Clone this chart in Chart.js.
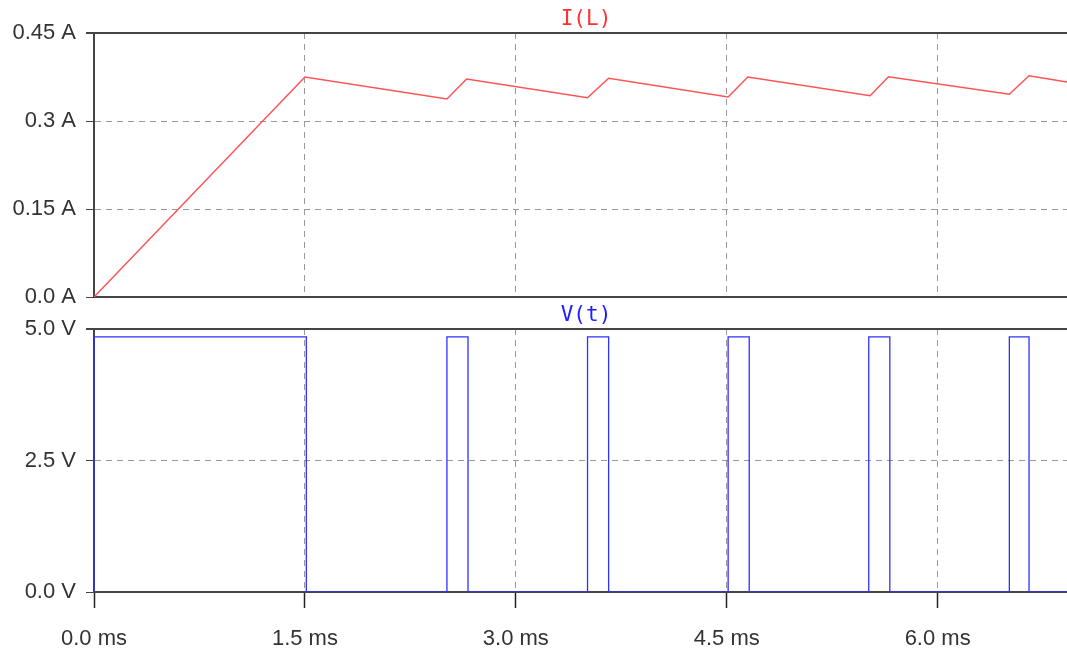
<!DOCTYPE html>
<html>
<head>
<meta charset="utf-8">
<script src="https://cdn.jsdelivr.net/npm/chart.js@4/dist/chart.umd.min.js"></script>
<style>
  body { margin: 0; background: #fff; width: 1067px; height: 651px; overflow: hidden; }
  canvas { position: absolute; left: 0; }
  #topChart { top: 0; }
  #bottomChart { top: 300px; }
</style>
</head>
<body>
<canvas id="topChart" width="1067" height="310"></canvas>
<canvas id="bottomChart" width="1067" height="351"></canvas>
<script>
// time axis (ms)
const timeMax = 6.92;
const timeTicks = [0, 1.5, 3.0, 4.5, 6.0];
const timeTickLabels = ['0.0 ms', '1.5 ms', '3.0 ms', '4.5 ms', '6.0 ms'];

// inductor current I(L), amps
const iTime = [0, 1.5, 2.51, 2.65, 3.51, 3.66, 4.51, 4.65, 5.52, 5.65, 6.51, 6.65, 6.92];
const iValues = [0, 0.375, 0.3375, 0.3716, 0.3397, 0.3728, 0.341, 0.375, 0.343, 0.3755, 0.3455, 0.3772, 0.3665];
const iTicks = [0, 0.15, 0.3, 0.45];
const iTickLabels = ['0.0 A', '0.15 A', '0.3 A', '0.45 A'];

// switch voltage V(t), volts (stepped)
const vTime = [0, 0, 1.51, 2.51, 2.66, 3.51, 3.66, 4.51, 4.66, 5.51, 5.66, 6.51, 6.65, 6.92];
const vValues = [0, 4.85, 0, 4.85, 0, 4.85, 0, 4.85, 0, 4.85, 0, 4.85, 0, 0];
const vTicks = [0, 2.5, 5.0];
const vTickLabels = ['0.0 V', '2.5 V', '5.0 V'];

const AXIS = '#444';
const GRID = '#999';
const tickFont = { family: 'Liberation Sans, Arial, sans-serif', size: 22 };

function points(xs, ys) {
    return xs.map((x, i) => ({ x: x, y: ys[i] }));
}

// panel title drawn above the plot area
const panelTitle = {
    id: 'panelTitle',
    afterDraw(chart, args, opts) {
        const ctx = chart.ctx;
        ctx.save();
        ctx.font = '21px "DejaVu Sans Mono", monospace';
        ctx.fillStyle = opts.color;
        ctx.textAlign = 'center';
        ctx.textBaseline = 'middle';
        ctx.fillText(opts.text, 586, chart.chartArea.top - opts.gap);
        ctx.restore();
    }
};

function yScale(min, max, ticks, labels) {
    return {
        type: 'linear',
        min: min,
        max: max,
        afterBuildTicks: s => { s.ticks = ticks.map(v => ({ value: v })); },
        afterFit: s => {
            s.width = 94;
            // let labels overhang the plot edges without shrinking it
            s.paddingTop = 0;
            s.paddingBottom = 0;
        },
        ticks: {
            font: tickFont,
            color: '#333',
            padding: 10,
            callback: (v, i) => labels[i]
        },
        grid: {
            color: c => (c.tick && c.tick.value === max) ? AXIS : GRID,
            lineWidth: c => (c.tick && c.tick.value === max) ? 2 : 1,
            tickColor: AXIS,
            tickLength: 8
        },
        border: {
            color: AXIS,
            width: 2,
            dash: c => (c.tick && c.tick.value === max) ? [] : [6, 5]
        }
    };
}

function xScale(showLabels) {
    return {
        type: 'linear',
        min: 0,
        max: timeMax,
        afterBuildTicks: s => { s.ticks = timeTicks.map(v => ({ value: v })); },
        afterFit: s => { s.height = showLabels ? 59 : 0; },
        ticks: {
            display: showLabels,
            font: tickFont,
            color: '#333',
            padding: 18,
            callback: (v, i) => timeTickLabels[i]
        },
        grid: {
            color: GRID,
            drawTicks: showLabels,
            tickColor: '#222',
            tickLength: 16,
            tickWidth: 1.5
        },
        border: {
            color: AXIS,
            width: 2,
            dash: [6, 5]
        }
    };
}

Chart.defaults.animation = false;

new Chart(document.getElementById('topChart'), {
    type: 'line',
    data: {
        datasets: [{
            data: points(iTime, iValues),
            borderColor: '#ff5252',
            borderWidth: 1.5,
            pointRadius: 0,
            tension: 0
        }]
    },
    options: {
        responsive: false,
        devicePixelRatio: 1,
        layout: { padding: { top: 33, bottom: 13, right: 0, left: 0 } },
        plugins: {
            legend: { display: false },
            tooltip: { enabled: false },
            panelTitle: { text: 'I(L)', color: '#ff3030', gap: 13 }
        },
        scales: {
            x: xScale(false),
            y: yScale(0, 0.45, iTicks, iTickLabels)
        }
    },
    plugins: [panelTitle]
});

new Chart(document.getElementById('bottomChart'), {
    type: 'line',
    data: {
        datasets: [{
            data: points(vTime, vValues),
            borderColor: '#3030ff',
            borderWidth: 1.3,
            pointRadius: 0,
            stepped: true
        }]
    },
    options: {
        responsive: false,
        devicePixelRatio: 1,
        layout: { padding: { top: 29, bottom: 0, right: 0, left: 0 } },
        plugins: {
            legend: { display: false },
            tooltip: { enabled: false },
            panelTitle: { text: 'V(t)', color: '#2020ff', gap: 13 }
        },
        scales: {
            x: xScale(true),
            y: yScale(0, 5.0, vTicks, vTickLabels)
        }
    },
    plugins: [panelTitle]
});
</script>
</body>
</html>
